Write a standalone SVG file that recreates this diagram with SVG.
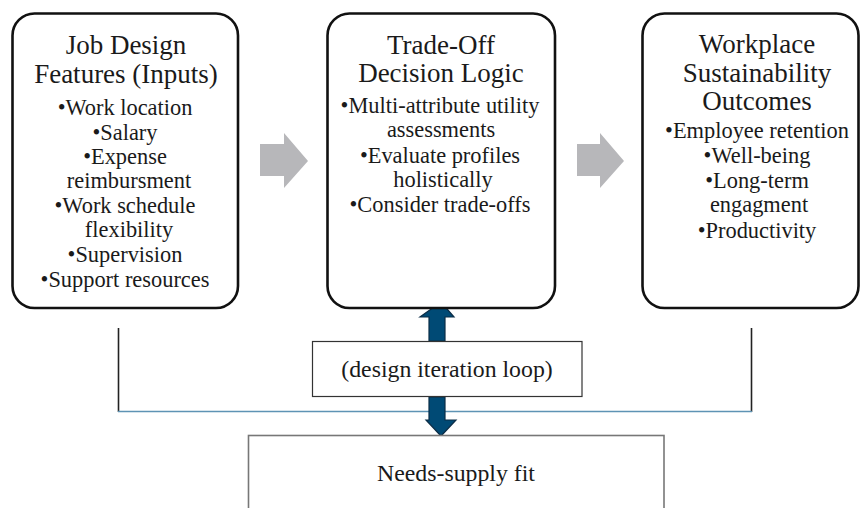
<svg xmlns="http://www.w3.org/2000/svg" width="860" height="508" viewBox="0 0 860 508">
<style>
.box{fill:#fff;stroke:#111;stroke-width:2.6}
.t{font-family:"Liberation Serif","Times New Roman",serif;fill:#1a1a1a;text-anchor:middle}
.h{font-size:27px}
.b{font-size:22.4px}
.gray{fill:#b7b7ba}
.blue{fill:#004a75;stroke:#0b2d47;stroke-width:1.2}
.line{stroke:#222;stroke-width:1.6;fill:none}
</style>
<rect width="860" height="508" fill="#fff"/>
<g id="connectors">
<path class="gray" d="M260,144 H284 V133 L308,161 L284,188 V176 H260 Z"/>
<path class="gray" d="M577,144 H600 V133 L624,161 L600,188 V176 H577 Z"/>
<line class="line" x1="118.5" y1="328" x2="118.5" y2="412"/>
<line class="line" x1="751.5" y1="328" x2="751.5" y2="412"/>
<line x1="118" y1="411.5" x2="752" y2="411.5" stroke="#5e93b4" stroke-width="1.6"/>
<path class="blue" d="M441,302 L454,317 H445 V341 H429 V317 H420 Z"/>
<path class="blue" d="M429,397 H445 V420 H456 L441,436 L426,420 H429 Z"/>
</g>
<g id="job-design">
<rect class="box" x="12.5" y="13.5" width="225.5" height="294.5" rx="22"/>
<text class="t h" x="126" y="54">Job Design</text>
<text class="t h" x="126" y="83">Features (Inputs)</text>
<text class="t b" x="125" y="115">•Work location</text>
<text class="t b" x="125" y="140">•Salary</text>
<text class="t b" x="125" y="164">•Expense</text>
<text class="t b" x="129" y="188">reimbursment</text>
<text class="t b" x="125" y="213">•Work schedule</text>
<text class="t b" x="129" y="237">flexibility</text>
<text class="t b" x="125" y="262">•Supervision</text>
<text class="t b" x="125" y="287">•Support resources</text>
</g>
<g id="trade-off">
<rect class="box" x="327.5" y="13.5" width="227.5" height="294.5" rx="22"/>
<text class="t h" x="441" y="54">Trade-Off</text>
<text class="t h" x="441" y="82">Decision Logic</text>
<text class="t b" x="440" y="113">•Multi-attribute utility</text>
<text class="t b" x="441" y="137">assessments</text>
<text class="t b" x="440" y="163">•Evaluate profiles</text>
<text class="t b" x="443" y="187">holistically</text>
<text class="t b" x="440" y="212">•Consider trade-offs</text>
</g>
<g id="outcomes">
<rect class="box" x="642.5" y="13.5" width="216" height="294.5" rx="22"/>
<text class="t h" x="757" y="53">Workplace</text>
<text class="t h" x="757" y="82">Sustainability</text>
<text class="t h" x="757" y="110">Outcomes</text>
<text class="t b" x="757" y="138">•Employee retention</text>
<text class="t b" x="757" y="163">•Well-being</text>
<text class="t b" x="757" y="188">•Long-term</text>
<text class="t b" x="759" y="212">engagment</text>
<text class="t b" x="757" y="238">•Productivity</text>
</g>
<g id="design-loop">
<rect x="312.5" y="341.5" width="269.5" height="55" fill="#fff" stroke="#333" stroke-width="1.2"/>
<text class="t" x="447" y="377" font-size="23.8">(design iteration loop)</text>
</g>
<g id="needs-supply">
<rect x="248.5" y="435.5" width="415.5" height="80" fill="#fff" stroke="#777" stroke-width="1.6"/>
<text class="t" x="456" y="481" font-size="23.8">Needs-supply fit</text>
</g>
</svg>
